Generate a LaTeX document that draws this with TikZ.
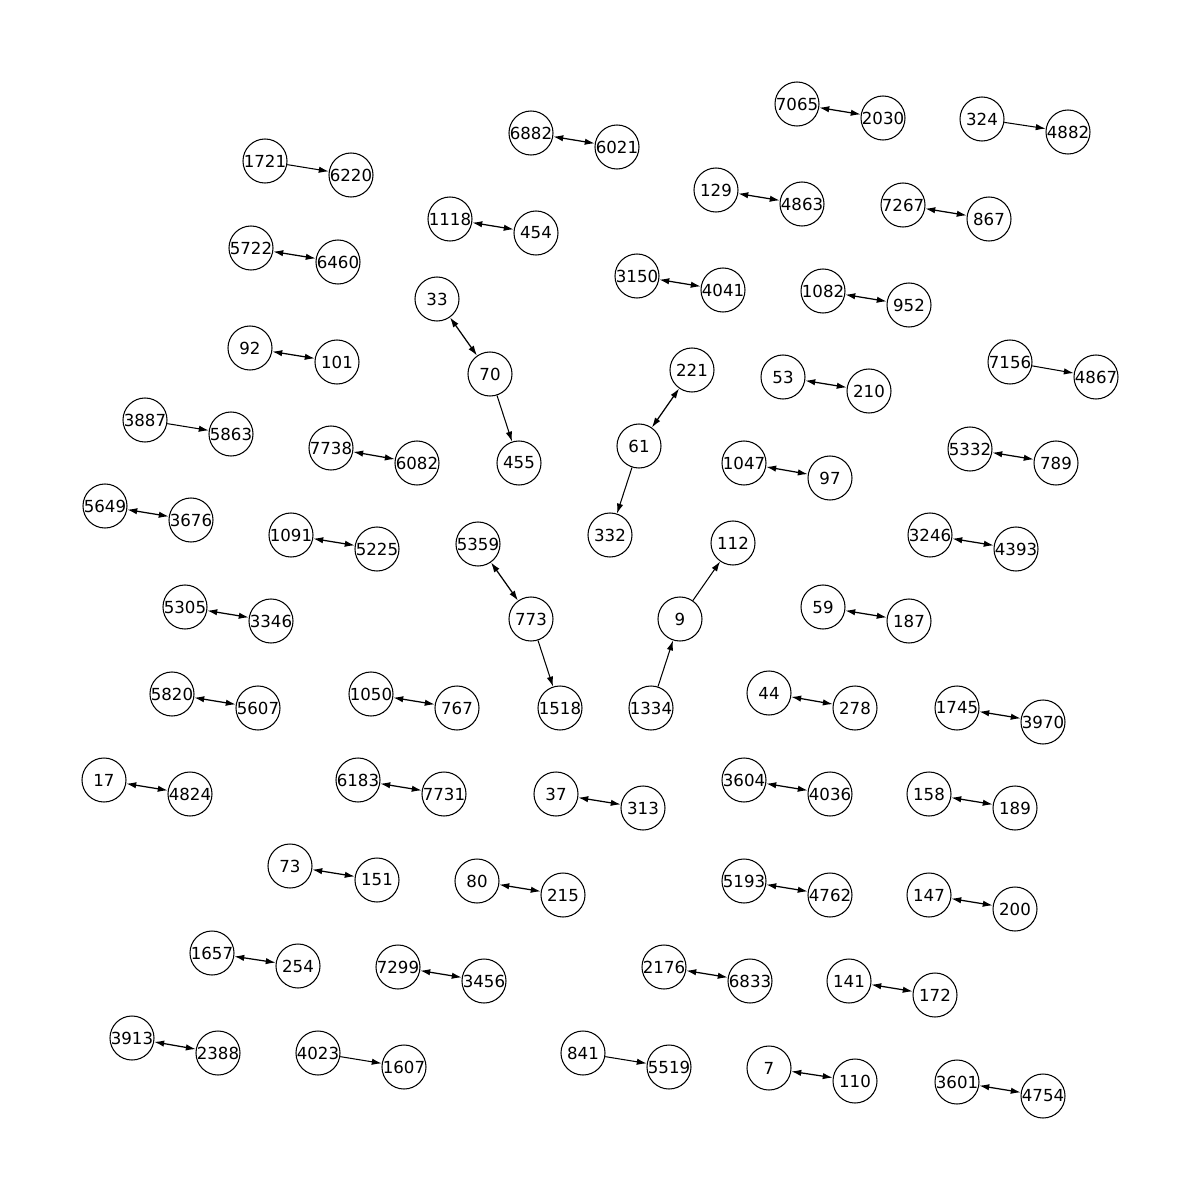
\documentclass[tikz,border=0pt]{standalone}
\usepackage{fontspec}
\setmainfont{DejaVu Sans}
\usetikzlibrary{arrows.meta}
\begin{document}
\begin{tikzpicture}[x=0.01in,y=-0.01in,
  nd/.style={circle,draw,line width=0.75pt,minimum size=0.44in,inner sep=0pt,font=\fontsize{12pt}{14pt}\selectfont},
  ar/.style={line width=0.75pt,-{Latex[length=7.2pt,width=4.6pt]}},
  bi/.style={line width=0.9pt,{Latex[length=7.2pt,width=4.6pt]}-{Latex[length=7.2pt,width=4.6pt]}}]
\useasboundingbox (0,0) rectangle (1200,1200);
\foreach \n/\x/\y in {
7065/797/104, 2030/883/118, 324/982/119, 4882/1068/132,
6882/531/133, 6021/617/147, 1721/265/161, 6220/351/175,
129/716/190, 4863/802/204, 7267/903/205, 867/989/219,
1118/450/219, 454/536/233, 5722/251/248, 6460/338/262,
3150/637/276, 4041/723/290, 1082/823/291, 952/909/305,
33/437/299, 70/490/374, 455/519/463,
92/250/348, 101/337/362,
221/692/370, 61/639/446, 332/610/535,
53/783/377, 210/869/391, 7156/1010/362, 4867/1096/377,
3887/145/420, 5863/231/434, 7738/331/448, 6082/417/463,
1047/744/463, 97/830/478, 5332/970/449, 789/1056/463,
5649/105/506, 3676/191/520, 1091/291/535, 5225/377/549,
5359/478/544, 773/531/619, 1518/560/708,
1334/651/708, 9/680/619, 112/733/543,
3246/930/535, 4393/1016/549, 5305/185/607, 3346/271/621,
59/823/607, 187/909/621, 5820/172/694, 5607/258/708,
1050/371/694, 767/457/708, 44/769/693, 278/855/708,
1745/957/708, 3970/1043/722, 17/104/780, 4824/190/794,
6183/358/780, 7731/444/794, 37/556/794, 313/643/808,
3604/744/780, 4036/830/794, 158/929/794, 189/1015/808,
73/290/866, 151/377/880, 80/477/881, 215/563/895,
5193/744/881, 4762/830/895, 147/929/895, 200/1015/909,
1657/212/953, 254/298/966, 7299/398/967, 3456/484/981,
2176/664/967, 6833/750/981, 141/849/981, 172/935/995,
3913/132/1038, 2388/218/1053, 4023/318/1053, 1607/404/1067,
841/583/1053, 5519/669/1067, 7/769/1068, 110/855/1081,
3601/957/1082, 4754/1043/1096}
  \node[nd] (n\n) at (\x,\y) {\n};
\foreach \a/\b in {324/4882, 1721/6220, 70/455, 61/332, 7156/4867, 3887/5863,
  773/1518, 1334/9, 9/112, 4023/1607, 841/5519}
  \draw[ar] (n\a) -- (n\b);
\foreach \a/\b in {7065/2030, 6882/6021, 129/4863, 7267/867, 1118/454, 5722/6460,
  3150/4041, 1082/952, 33/70, 92/101, 221/61, 53/210, 7738/6082, 1047/97,
  5332/789, 5649/3676, 1091/5225, 5359/773, 3246/4393, 5305/3346, 59/187,
  5820/5607, 1050/767, 44/278, 1745/3970, 17/4824, 6183/7731, 37/313,
  3604/4036, 158/189, 73/151, 80/215, 5193/4762, 147/200, 1657/254,
  7299/3456, 2176/6833, 141/172, 3913/2388, 7/110, 3601/4754}
  \draw[bi] (n\a) -- (n\b);
\end{tikzpicture}
\end{document}
